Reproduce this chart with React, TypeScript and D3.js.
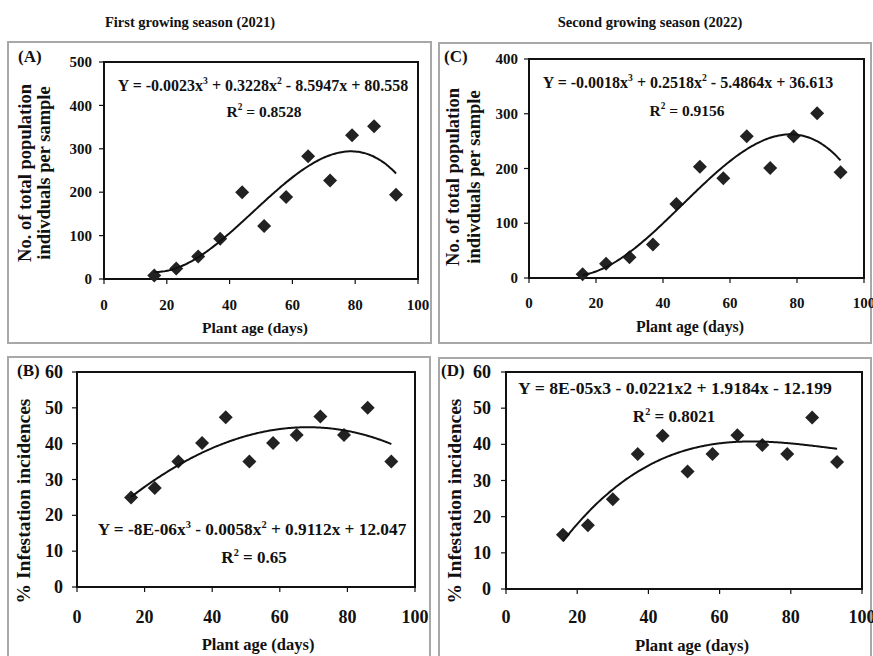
import React from "react";
import * as d3 from "d3";

// plant age (days) at each sampling
const days = [16, 23, 30, 37, 44, 51, 58, 65, 72, 79, 86, 93];
// total population per sample
const popSeason1 = [8, 24, 52, 93, 200, 122, 189, 283, 227, 331, 352, 194];
const popSeason2 = [7, 26, 38, 61, 135, 203, 182, 259, 201, 259, 301, 193];
// % infestation incidences
const infSeason1 = [25, 27.6, 35, 40.2, 47.4, 35, 40.2, 42.4, 47.6, 42.4, 50, 35];
const infSeason2 = [15, 17.6, 24.8, 37.3, 42.4, 32.5, 37.3, 42.5, 39.8, 37.3, 47.4, 35.1];

const xTicks = [0, 20, 40, 60, 80, 100];
const popTicks1 = [0, 100, 200, 300, 400, 500];
const popTicks2 = [0, 100, 200, 300, 400];
const infTicks = [0, 10, 20, 30, 40, 50, 60];

type Part = { t: string; sup?: boolean };
const eqA: Part[] = [{ t: "Y = -0.0023x" }, { t: "3", sup: true }, { t: " + 0.3228x" }, { t: "2", sup: true }, { t: " - 8.5947x + 80.558" }];
const eqB: Part[] = [{ t: "Y = -8E-06x" }, { t: "3", sup: true }, { t: " - 0.0058x" }, { t: "2", sup: true }, { t: " + 0.9112x + 12.047" }];
const eqC: Part[] = [{ t: "Y = -0.0018x" }, { t: "3", sup: true }, { t: " + 0.2518x" }, { t: "2", sup: true }, { t: " - 5.4864x + 36.613" }];
const eqD: Part[] = [{ t: "Y = 8E-05x3 - 0.0221x2 + 1.9184x - 12.199" }];
const r2A: Part[] = [{ t: "R" }, { t: "2", sup: true }, { t: " = 0.8528" }];
const r2B: Part[] = [{ t: "R" }, { t: "2", sup: true }, { t: " = 0.65" }];
const r2C: Part[] = [{ t: "R" }, { t: "2", sup: true }, { t: " = 0.9156" }];
const r2D: Part[] = [{ t: "R" }, { t: "2", sup: true }, { t: " = 0.8021" }];

const FONT = "'Liberation Serif', 'Times New Roman', serif";

// least squares cubic, like the spreadsheet trendline
function fitCubic(xs: number[], ys: number[]) {
  const n = 4;
  const m = Array.from({ length: n }, () => new Array(n + 1).fill(0));
  xs.forEach((x, i) => {
    const p = [1, x, x * x, x * x * x];
    for (let r = 0; r < n; r++) {
      for (let c = 0; c < n; c++) m[r][c] += p[r] * p[c];
      m[r][n] += p[r] * ys[i];
    }
  });
  for (let i = 0; i < n; i++) {
    let best = i;
    for (let k = i + 1; k < n; k++) if (Math.abs(m[k][i]) > Math.abs(m[best][i])) best = k;
    [m[i], m[best]] = [m[best], m[i]];
    for (let k = i + 1; k < n; k++) {
      const f = m[k][i] / m[i][i];
      for (let j = i; j <= n; j++) m[k][j] -= f * m[i][j];
    }
  }
  const c = new Array(n).fill(0);
  for (let i = n - 1; i >= 0; i--) {
    let s = m[i][n];
    for (let j = i + 1; j < n; j++) s -= m[i][j] * c[j];
    c[i] = s / m[i][i];
  }
  return (x: number) => c[0] + c[1] * x + c[2] * x * x + c[3] * x * x * x;
}

function Formula({ parts, x, y, fs }: { parts: Part[]; x: number; y: number; fs: number }) {
  const lift = fs * 0.42;
  let raised = false;
  return (
    <text x={x} y={y} textAnchor="middle" fontSize={fs} fontWeight="bold" fontFamily={FONT} fill="#111">
      {parts.map((p, i) => {
        let dy = 0;
        if (p.sup && !raised) { dy = -lift; raised = true; }
        else if (!p.sup && raised) { dy = lift; raised = false; }
        return (
          <tspan key={i} dy={dy} fontSize={p.sup ? fs * 0.6 : fs}>{p.t}</tspan>
        );
      })}
    </text>
  );
}

type PanelProps = {
  label: string; labelPos: [number, number];
  box: [number, number, number, number];
  plot: [number, number, number, number];
  values: number[]; yTicks: number[];
  tickFs: number; yTickX: number; xTickY: number;
  xTitle: [number, number, number];
  yTitle: string[]; yTitleX: number[]; yTitleY: number; yTitleFs: number;
  eq: Part[]; eqPos: [number, number, number];
  r2: Part[]; r2Pos: [number, number, number];
};

function Panel(p: PanelProps) {
  const [l, t, r, b] = p.plot;
  const x = d3.scaleLinear().domain([0, 100]).range([l, r]);
  const y = d3.scaleLinear().domain([0, p.yTicks[p.yTicks.length - 1]]).range([b, t]);
  const trend = fitCubic(days, p.values);
  const pts = d3.range(days[0], days[days.length - 1] + 0.01, 0.5).map((d) => [d, trend(d)] as [number, number]);
  const line = d3.line<[number, number]>().x((d) => x(d[0])).y((d) => y(d[1])).curve(d3.curveMonotoneX);
  const dia = 7;
  return (
    <g>
      <rect x={p.box[0]} y={p.box[1]} width={p.box[2]} height={p.box[3]} fill="#fff" stroke="#a8a8a8" strokeWidth={2} />
      <text x={p.labelPos[0]} y={p.labelPos[1]} fontSize={17} fontWeight="bold" fontFamily={FONT} fill="#111">{p.label}</text>
      <rect x={l} y={t} width={r - l} height={b - t} fill="#fff" stroke="#111" strokeWidth={2} />
      {xTicks.map((v) => (
        <g key={"x" + v}>
          <line x1={x(v)} x2={x(v)} y1={b} y2={b + 5} stroke="#111" strokeWidth={1.2} />
          <text x={x(v)} y={p.xTickY} textAnchor="middle" fontSize={p.tickFs} fontWeight="bold" fontFamily={FONT} fill="#111">{v}</text>
        </g>
      ))}
      {p.yTicks.map((v) => (
        <g key={"y" + v}>
          <line x1={l - 5} x2={l} y1={y(v)} y2={y(v)} stroke="#111" strokeWidth={1.2} />
          <text x={p.yTickX} y={y(v)} dy="0.34em" textAnchor="end" fontSize={p.tickFs} fontWeight="bold" fontFamily={FONT} fill="#111">{v}</text>
        </g>
      ))}
      <text x={p.xTitle[0]} y={p.xTitle[1]} textAnchor="middle" fontSize={p.xTitle[2]} fontWeight="bold" fontFamily={FONT} fill="#111">Plant age (days)</text>
      {p.yTitle.map((s, i) => (
        <text key={s} transform={`translate(${p.yTitleX[i]},${p.yTitleY}) rotate(-90)`} textAnchor="middle" dominantBaseline="central"
          fontSize={p.yTitleFs} fontWeight="bold" fontFamily={FONT} fill="#111">{s}</text>
      ))}
      {days.map((d, i) => (
        <path key={d} transform={`translate(${x(d)},${y(p.values[i])})`} d={`M0,${-dia}L${dia},0L0,${dia}L${-dia},0Z`} fill="#222" />
      ))}
      <path d={line(pts) || ""} fill="none" stroke="#111" strokeWidth={2} />
      <Formula parts={p.eq} x={p.eqPos[0]} y={p.eqPos[1]} fs={p.eqPos[2]} />
      <Formula parts={p.r2} x={p.r2Pos[0]} y={p.r2Pos[1]} fs={p.r2Pos[2]} />
    </g>
  );
}

export default function App() {
  return (
    <svg width={873} height={656} style={{ position: "absolute", left: 0, top: 0, background: "#fff" }}>
      <rect width={873} height={656} fill="#fff" />
      <text x={190} y={27} textAnchor="middle" fontSize={14.5} fontWeight="bold" fontFamily={FONT} fill="#111">First growing season (2021)</text>
      <text x={650} y={27} textAnchor="middle" fontSize={14.5} fontWeight="bold" fontFamily={FONT} fill="#111">Second growing season (2022)</text>
      <Panel label="(A)" labelPos={[18, 62]} box={[8, 42, 423, 301]} plot={[104, 62, 418, 279]}
        values={popSeason1} yTicks={popTicks1} tickFs={15} yTickX={92} xTickY={310} xTitle={[255, 333, 15.5]}
        yTitle={["No. of total population", "indivduals per sample"]} yTitleX={[25, 44]} yTitleY={173} yTitleFs={18.5}
        eq={eqA} eqPos={[263, 91, 16]} r2={r2A} r2Pos={[264, 117, 15.5]} />
      <Panel label="(C)" labelPos={[444, 62]} box={[439, 43, 432, 300]} plot={[529, 59, 864, 278]}
        values={popSeason2} yTicks={popTicks2} tickFs={15} yTickX={518} xTickY={308} xTitle={[690, 332, 15.8]}
        yTitle={["No. of total population", "indivduals per sample"]} yTitleX={[453, 474]} yTitleY={177} yTitleFs={18.5}
        eq={eqC} eqPos={[688, 88, 16]} r2={r2C} r2Pos={[687, 116, 15.5]} />
      <Panel label="(B)" labelPos={[17, 376]} box={[8, 357, 422, 310]} plot={[77, 372, 415, 587]}
        values={infSeason1} yTicks={infTicks} tickFs={18} yTickX={63} xTickY={623} xTitle={[258, 650, 16.5]}
        yTitle={["% Infestation incidences"]} yTitleX={[23]} yTitleY={501} yTitleFs={19.5}
        eq={eqB} eqPos={[252, 535, 17.3]} r2={r2B} r2Pos={[254, 563, 17]} />
      <Panel label="(D)" labelPos={[441, 376]} box={[439, 358, 432, 310]} plot={[506, 372, 862, 589]}
        values={infSeason2} yTicks={infTicks} tickFs={18} yTickX={491} xTickY={623} xTitle={[692, 651, 16.7]}
        yTitle={["% Infestation incidences"]} yTitleX={[454]} yTitleY={501} yTitleFs={19.5}
        eq={eqD} eqPos={[675, 394, 17.7]} r2={r2D} r2Pos={[674, 422, 17]} />
    </svg>
  );
}
